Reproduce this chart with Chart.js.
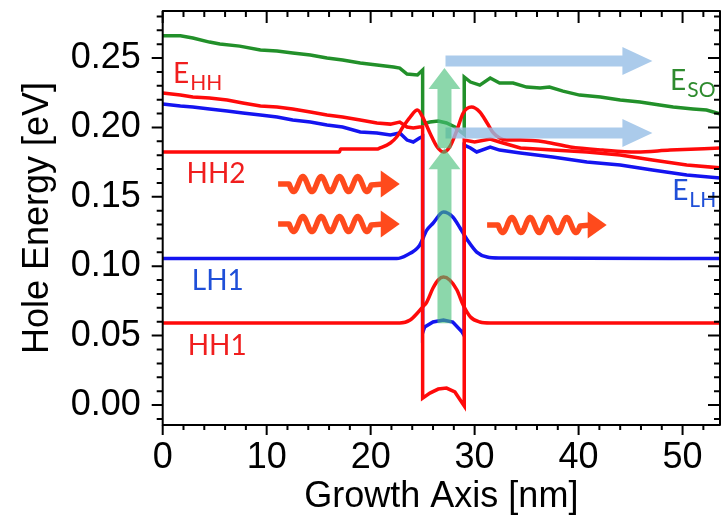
<!DOCTYPE html>
<html>
<head>
<meta charset="utf-8">
<script src="https://cdn.jsdelivr.net/npm/chart.js@4.4.1/dist/chart.umd.min.js"></script>
<style>
    html, body { margin: 0; padding: 0; background: #fff; }
</style>
</head>
<body>
<canvas id="bandChart" width="721" height="519"></canvas>
<script>
// Band edges and subband wavefunctions (x in nm, y in eV)
const esoX = [0, 1.7, 2.9, 4.5, 5.5, 7.4, 9.4, 11.0, 12.5, 14.2, 15.8, 17.3, 19.0, 20.6, 22.2, 22.8, 23.5, 24.5, 25.0, 25.0, 25.7, 26.5, 27.3, 28.1, 29.0, 29.0, 29.6, 30.5, 31.5, 32.4, 33.7, 35.0, 36.3, 37.2, 38.5, 40.1, 42.1, 44.0, 45.9, 47.8, 49.1, 51.0, 52.3, 53.7];
const esoY = [0.266, 0.266, 0.2644, 0.2615, 0.2601, 0.2586, 0.2558, 0.255, 0.2536, 0.2522, 0.25, 0.2486, 0.2464, 0.245, 0.2435, 0.2428, 0.2385, 0.2378, 0.2414, 0.2025, 0.2039, 0.2046, 0.2032, 0.2003, 0.195, 0.2363, 0.2327, 0.2305, 0.2356, 0.232, 0.232, 0.2291, 0.2284, 0.2291, 0.2262, 0.2233, 0.2219, 0.2197, 0.2183, 0.2161, 0.2147, 0.2133, 0.2125, 0.2096];

const ehhX = [0, 1.7, 2.9, 4.5, 6.2, 7.7, 9.4, 11.0, 12.5, 14.2, 15.8, 17.3, 19.0, 20.6, 21.9, 22.8, 23.5, 24.1, 24.7, 25.0, 25.0, 25.7, 26.5, 27.3, 28.1, 29.0, 29.0, 30.0, 31.5, 32.4, 34.4, 37.5, 40.8, 44.0, 47.1, 50.4, 53.7];
const ehhY = [0.2248, 0.2233, 0.2219, 0.2212, 0.2197, 0.2176, 0.2154, 0.2147, 0.2133, 0.2111, 0.2089, 0.2075, 0.2053, 0.2032, 0.2024, 0.2039, 0.2003, 0.1996, 0.2003, 0.2003, 0.005, 0.0086, 0.0115, 0.0122, 0.0094, -0.0007, 0.1909, 0.1895, 0.1916, 0.1895, 0.1852, 0.1837, 0.1823, 0.1801, 0.1765, 0.1729, 0.1708];

const elhX = [0, 1.7, 2.9, 4.5, 6.2, 7.7, 9.4, 11.0, 12.5, 14.2, 15.8, 17.3, 19.0, 20.6, 21.9, 22.8, 23.5, 24.1, 24.7, 25.0, 25.0, 25.2, 26.0, 27.0, 27.9, 28.8, 29.0, 29.0, 29.6, 30.2, 31.5, 32.4, 34.4, 37.5, 40.8, 44.0, 47.1, 50.4, 53.7];
const elhY = [0.2169, 0.2154, 0.2147, 0.2133, 0.2118, 0.2104, 0.2089, 0.2075, 0.2053, 0.2039, 0.2017, 0.2003, 0.1967, 0.196, 0.1945, 0.196, 0.1909, 0.1895, 0.1924, 0.1935, 0.052, 0.0562, 0.0598, 0.0612, 0.0598, 0.0526, 0.05, 0.1873, 0.1852, 0.1823, 0.1859, 0.1837, 0.1816, 0.1787, 0.1751, 0.1729, 0.1693, 0.1657, 0.1635];

const hh2X = [0, 17.0, 17.1, 20.6, 20.9, 21.9, 22.5, 23.1, 23.8, 24.5, 25.0, 25.7, 26.4, 27.0, 27.6, 28.3, 28.9, 29.7, 30.5, 31.2, 31.8, 32.4, 33.1, 34.4, 36.8, 39.2, 42.3, 45.6, 48.8, 53.7];
const hh2Y = [0.1823, 0.1823, 0.1844, 0.1844, 0.1852, 0.1888, 0.1931, 0.2003, 0.2075, 0.2125, 0.2075, 0.196, 0.1859, 0.1823, 0.1859, 0.1981, 0.2104, 0.2147, 0.2111, 0.2032, 0.196, 0.1924, 0.1909, 0.1909, 0.1895, 0.1859, 0.1837, 0.1823, 0.1837, 0.1852];

const hh1X = [0, 22.8, 23.8, 24.5, 25.0, 25.4, 26.0, 26.5, 27.0, 27.6, 28.3, 28.9, 29.6, 30.5, 31.5, 53.7];
const hh1Y = [0.0591, 0.0591, 0.0612, 0.0663, 0.0706, 0.0742, 0.0843, 0.0901, 0.0922, 0.0901, 0.0829, 0.072, 0.0634, 0.0598, 0.0591, 0.0591];

const lh1X = [0, 22.5, 23.5, 24.7, 25.4, 26.0, 27.0, 27.9, 28.6, 29.3, 30.2, 31.2, 32.4, 53.7];
const lh1Y = [0.1055, 0.1055, 0.1081, 0.115, 0.126, 0.131, 0.139, 0.1354, 0.1275, 0.1189, 0.1102, 0.1066, 0.1059, 0.1055];

// Annotations (anchor points in data units)
const curveLabels = [
    { main: 'E', sub: 'HH', x: 1.0, y: 0.232, color: '#f01e1e' },
    { main: 'HH2', sub: '', x: 2.3, y: 0.160, color: '#f01e1e' },
    { main: 'LH1', sub: '', x: 2.8, y: 0.0829, color: '#1f4fd8' },
    { main: 'HH1', sub: '', x: 2.4, y: 0.036, color: '#f01e1e' },
    { main: 'E', sub: 'SO', x: 48.8, y: 0.227, color: '#2e8b2e' },
    { main: 'E', sub: 'LH', x: 49.0, y: 0.1477, color: '#1f4fd8' }
];
const blueArrows = [
    { x0: 27.2, x1: 47.1, y: 0.2478 },
    { x0: 27.2, x1: 47.1, y: 0.196 }
];
const greenArrows = [
    { x: 27.1, y0: 0.059, y1: 0.185 },
    { x: 27.1, y0: 0.185, y1: 0.2428 }
];
const wavyArrows = [
    { x0: 11.1, x1: 22.8, y: 0.1592 },
    { x0: 11.1, x1: 22.8, y: 0.1304 },
    { x0: 31.2, x1: 42.7, y: 0.1297 }
];

function pts(xs, ys) {
    return xs.map((x, i) => ({ x: x, y: ys[i] }));
}

function lineSet(xs, ys, color, smooth) {
    return {
        data: pts(xs, ys),
        borderColor: color,
        borderWidth: 3.5,
        pointRadius: 0,
        fill: false,
        tension: 0,
        cubicInterpolationMode: smooth ? 'monotone' : 'default'
    };
}

const RED = '#ff0a0a';
const BLUE = '#1414f0';
const GREEN = '#22902a';

// Frame, ticks, arrows and labels
const overlayPlugin = {
    id: 'overlay',
    afterDatasetsDraw(chart) {
        const ctx = chart.ctx;
        const xs = chart.scales.x;
        const ys = chart.scales.y;
        const area = chart.chartArea;
        ctx.save();

        // light blue horizontal arrows
        ctx.fillStyle = 'rgba(150, 190, 230, 0.8)';
        blueArrows.forEach(a => {
            const x0 = xs.getPixelForValue(a.x0);
            const x1 = xs.getPixelForValue(a.x1);
            const y = ys.getPixelForValue(a.y);
            const hl = 30, sw = 5.5, hw = 14;
            ctx.beginPath();
            ctx.moveTo(x0, y - sw);
            ctx.lineTo(x1 - hl, y - sw);
            ctx.lineTo(x1 - hl, y - hw);
            ctx.lineTo(x1, y);
            ctx.lineTo(x1 - hl, y + hw);
            ctx.lineTo(x1 - hl, y + sw);
            ctx.lineTo(x0, y + sw);
            ctx.closePath();
            ctx.fill();
        });

        // green vertical arrows (one path so overlaps are not doubled)
        ctx.fillStyle = 'rgba(70, 190, 120, 0.62)';
        ctx.beginPath();
        greenArrows.forEach(a => {
            const x = xs.getPixelForValue(a.x);
            const y0 = ys.getPixelForValue(a.y0);
            const y1 = ys.getPixelForValue(a.y1);
            const hl = 21, sw = 7, hw = 16;
            ctx.moveTo(x - sw, y0);
            ctx.lineTo(x - sw, y1 + hl);
            ctx.lineTo(x - hw, y1 + hl);
            ctx.lineTo(x, y1);
            ctx.lineTo(x + hw, y1 + hl);
            ctx.lineTo(x + sw, y1 + hl);
            ctx.lineTo(x + sw, y0);
            ctx.closePath();
        });
        ctx.fill('nonzero');

        // orange wavy arrows
        ctx.strokeStyle = '#ff4a1c';
        ctx.fillStyle = '#ff4a1c';
        ctx.lineWidth = 5.5;
        ctx.lineJoin = 'round';
        wavyArrows.forEach(a => {
            const x0 = xs.getPixelForValue(a.x0);
            const x1 = xs.getPixelForValue(a.x1);
            const y = ys.getPixelForValue(a.y);
            const tail = 11, period = 18.3, amp = 7.5, waveLen = period * 4.5;
            ctx.beginPath();
            ctx.moveTo(x0, y);
            ctx.lineTo(x0 + tail, y);
            for (let t = 0; t <= waveLen; t += 0.5) {
                ctx.lineTo(x0 + tail + t, y + amp * Math.sin(2 * Math.PI * t / period));
            }
            ctx.lineTo(x1 - 16, y);
            ctx.stroke();
            ctx.beginPath();
            ctx.moveTo(x1 - 19, y - 13.5);
            ctx.lineTo(x1, y);
            ctx.lineTo(x1 - 19, y + 13.5);
            ctx.closePath();
            ctx.fill();
        });

        // curve labels
        ctx.textBaseline = 'alphabetic';
        ctx.textAlign = 'left';
        curveLabels.forEach(l => {
            const x = xs.getPixelForValue(l.x);
            const y = ys.getPixelForValue(l.y);
            ctx.fillStyle = l.color;
            ctx.font = '28px Lato';
            ctx.fillText(l.main, x, y);
            if (l.sub) {
                const w = ctx.measureText(l.main).width;
                ctx.font = '21px Lato';
                ctx.fillText(l.sub, x + w + 1, y + 7);
            }
        });

        // frame
        ctx.strokeStyle = '#000';
        ctx.lineWidth = 2;
        ctx.strokeRect(area.left, area.top, area.right - area.left, area.bottom - area.top);

        // x ticks (bottom outward, top inward)
        ctx.beginPath();
        for (let v = 0; v <= 53.6; v += 2) {
            const px = xs.getPixelForValue(v);
            const major = v % 10 === 0;
            ctx.moveTo(px, area.bottom);
            ctx.lineTo(px, area.bottom + (major ? 10 : 5));
            ctx.moveTo(px, area.top);
            ctx.lineTo(px, area.top + (major ? 12 : 6));
        }
        // y ticks (left outward, right inward)
        for (let k = -1; k <= 28; k++) {
            const py = ys.getPixelForValue(k / 100);
            const major = k % 5 === 0;
            ctx.moveTo(area.left, py);
            ctx.lineTo(area.left - (major ? 11 : 6), py);
            ctx.moveTo(area.right, py);
            ctx.lineTo(area.right - (major ? 12 : 6), py);
        }
        ctx.stroke();
        ctx.restore();
    }
};

const axisFont = { family: "'Liberation Sans', Arial, sans-serif", size: 36 };

const ctx = document.getElementById('bandChart');
new Chart(ctx, {
    type: 'line',
    data: {
        datasets: [
            lineSet(ehhX, ehhY, RED, false),
            lineSet(hh2X, hh2Y, RED, true),
            lineSet(hh1X, hh1Y, RED, true),
            lineSet(esoX, esoY, GREEN, false),
            lineSet(elhX, elhY, BLUE, false),
            lineSet(lh1X, lh1Y, BLUE, true)
        ]
    },
    options: {
        responsive: false,
        animation: false,
        layout: { padding: { top: 11, right: 1, left: 0, bottom: 0 } },
        plugins: {
            legend: { display: false },
            tooltip: { enabled: false }
        },
        scales: {
            x: {
                type: 'linear',
                min: 0,
                max: 53.6,
                afterFit: function (scale) {
                    scale.height = 94;
                    scale.paddingLeft = 0;
                    scale.paddingRight = 0;
                },
                grid: { display: false, drawTicks: false },
                border: { display: false },
                ticks: {
                    stepSize: 10,
                    includeBounds: false,
                    autoSkip: false,
                    maxRotation: 0,
                    padding: 11,
                    color: '#000',
                    font: axisFont
                },
                title: {
                    display: true,
                    text: 'Growth Axis [nm]',
                    color: '#000',
                    font: axisFont,
                    padding: { top: 0, bottom: 0 }
                }
            },
            y: {
                type: 'linear',
                min: -0.0144,
                max: 0.2839,
                afterFit: function (scale) {
                    scale.width = 162.7;
                    scale.paddingTop = 0;
                    scale.paddingBottom = 0;
                },
                grid: { display: false, drawTicks: false },
                border: { display: false },
                ticks: {
                    stepSize: 0.05,
                    includeBounds: false,
                    padding: 22,
                    color: '#000',
                    font: axisFont,
                    callback: function (value) {
                        return Number(value).toFixed(2);
                    }
                },
                title: {
                    display: true,
                    text: 'Hole Energy [eV]',
                    color: '#000',
                    font: axisFont,
                    padding: { top: 16, bottom: 0 }
                }
            }
        }
    },
    plugins: [overlayPlugin]
});
</script>
</body>
</html>
